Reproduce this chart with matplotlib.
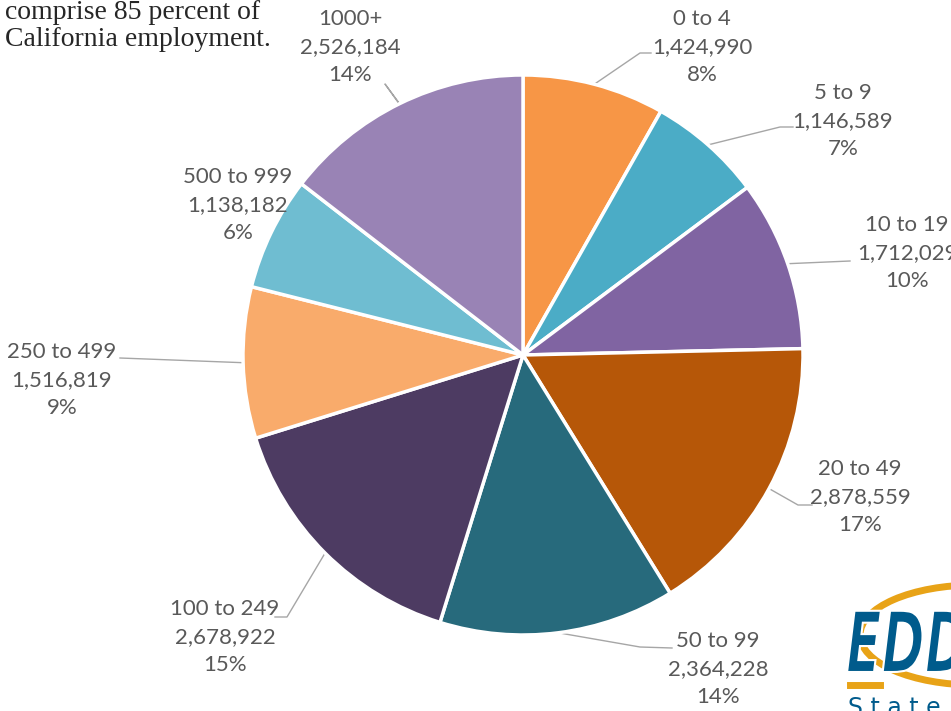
import numpy as np
import matplotlib
matplotlib.use("Agg")
from matplotlib import pyplot as plt
from matplotlib.patches import Arc, PathPatch
from matplotlib.textpath import TextPath
from matplotlib.font_manager import FontProperties
from matplotlib.transforms import Affine2D

# employment by firm size (number of employees)
sizes = ["0 to 4", "5 to 9", "10 to 19", "20 to 49", "50 to 99",
         "100 to 249", "250 to 499", "500 to 999", "1000+"]
employment = [1424990, 1146589, 1712029, 2878559, 2364228,
              2678922, 1516819, 1138182, 2526184]
pct_labels = ["8%", "7%", "10%", "17%", "14%", "15%", "9%", "6%", "14%"]

colors = ["#F79646", "#4BACC6", "#8064A2", "#B65708", "#276A7C",
          "#4D3B62", "#F9AB6B", "#6FBDD1", "#9983B5"]

W, H = 951, 711
def py(y):
    # pixel row -> data y
    return H - y

fig = plt.figure(figsize=(W / 100, H / 100), dpi=100)
ax = fig.add_axes([0, 0, 1, 1])

cx, cy, r = 523, py(355), 280
wedges, _ = ax.pie(employment, colors=colors, startangle=90, counterclock=False,
                   center=(cx, cy), radius=r,
                   wedgeprops=dict(edgecolor="white", linewidth=2.5))

ax.set_xlim(0, W)
ax.set_ylim(0, H)
ax.set_aspect("equal")
ax.axis("off")

# label centres and leader elbows, in pixel coords
label_pos = [(702, 47), (843, 121), (907, 253), (860, 497), (718, 669),
             (225, 637), (62, 380), (238, 205), (350, 47)]
elbows = [[(640, 53), (651, 53)],
          [(780, 127), (793, 127)],
          [(850, 261)],
          [(798, 505), (812, 505)],
          [(640, 647), (672, 648)],
          [(287, 617), (275, 617)],
          [(120, 358)],
          None,
          [(385, 84), (400, 105)]]

lab_font = dict(family="Lato", size=16, color="#595959")
for i, w in enumerate(wedges):
    txt = "%s\n%s\n%s" % (sizes[i], format(employment[i], ","), pct_labels[i])
    lx, ly = label_pos[i]
    ax.text(lx, py(ly), txt, ha="center", va="center", multialignment="center",
            linespacing=1.5, **lab_font)
    if elbows[i] is None:
        continue
    mid = np.deg2rad((w.theta1 + w.theta2) / 2)
    xs = [cx + r * np.cos(mid)] + [p[0] for p in elbows[i]]
    ys = [cy + r * np.sin(mid)] + [py(p[1]) for p in elbows[i]]
    ax.plot(xs, ys, color="#A6A6A6", lw=1, zorder=0.5)

# cropped note in top left
fig.text(5 / W, 1 - 26 / H, "comprise 85 percent of\nCalifornia employment.",
         ha="left", va="center", family="Liberation Serif", size=20,
         color="#262626", linespacing=1.12)

# EDD logo, cut off at the right edge
ax.add_patch(Arc((975, py(635)), 230, 100, theta1=90, theta2=270,
                 color="#E8A317", lw=5, zorder=3))
ax.plot([850, 880], [py(685), py(685)], color="#E8A317", lw=5, zorder=3)
tp = TextPath((0, 0), "EDD", size=84,
              prop=FontProperties(family="DejaVu Sans", weight="bold", style="italic"))
tr = Affine2D().scale(0.62, 1.0).translate(846, py(672)) + ax.transData
ax.add_patch(PathPatch(tp, transform=tr, facecolor="#005B8C", edgecolor="white",
                       lw=1.5, zorder=4))
ax.text(848, py(696), "S t a t e   o f", ha="left", va="top", family="DejaVu Sans",
        size=17, color="#005B8C")

fig.savefig("out.png", dpi=100)
